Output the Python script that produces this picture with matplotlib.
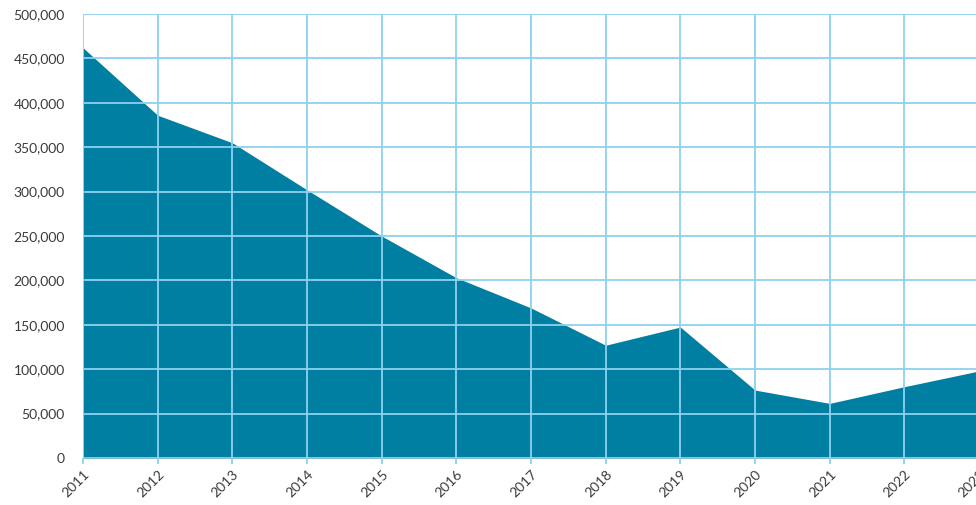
import numpy as np
import matplotlib.pyplot as plt
from matplotlib.ticker import FuncFormatter

years = [2011, 2012, 2013, 2014, 2015, 2016, 2017, 2018, 2019, 2020, 2021, 2022, 2023]
values = [462000, 386000, 355000, 302000, 250000, 203000, 169000, 127000, 147500,
          76500, 61500, 80300, 98000]

fill_color = '#007fa3'
grid_color = '#8ed2ee'

plt.rcParams['font.family'] = ['Lato', 'DejaVu Sans']

fig = plt.figure(figsize=(9.76, 5.05), dpi=100)
ax = fig.add_axes([83 / 976, 47 / 505, 896 / 976, 444 / 505])

ax.fill_between(years, values, 0, color=fill_color, lw=0, zorder=1)

ax.set_xlim(2011, 2023)
ax.set_ylim(0, 500000)
ax.set_xticks(years)
ax.set_yticks(np.arange(0, 500001, 50000))
ax.yaxis.set_major_formatter(FuncFormatter(lambda v, p: f'{int(v):,}'))

ax.grid(True, color=grid_color, lw=1.3, zorder=2)
ax.set_axisbelow(False)
for s in ax.spines.values():
    s.set_visible(False)

ax.tick_params(axis='y', length=0, pad=13, labelsize=10, labelcolor='#3a3a3a')
ax.tick_params(axis='x', length=4, width=1.3, color=grid_color, pad=3,
               labelsize=10, labelcolor='#3a3a3a')
for lbl in ax.get_xticklabels():
    lbl.set_rotation(45)
    lbl.set_ha('right')
    lbl.set_rotation_mode('anchor')

fig.savefig('out.png', dpi=100)
